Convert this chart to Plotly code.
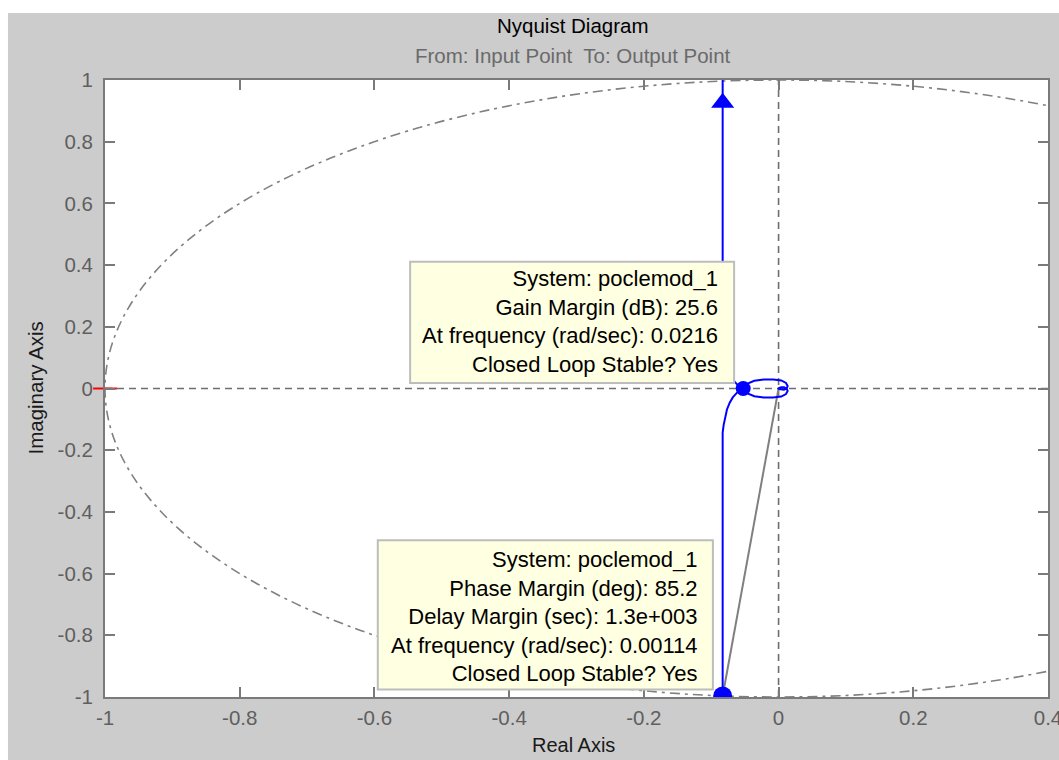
import plotly.graph_objects as go

# ---------------- data ----------------
# positive-frequency branch of the Nyquist curve (real, imag), from -j*inf towards the origin
nyq_re = [-0.083, -0.083, -0.083, -0.0815, -0.0795, -0.0766, -0.0725, -0.068, -0.061, -0.0525,
          -0.046, -0.036, -0.022, -0.008, 0.004, 0.011, 0.0135, 0.012, 0.008, 0.004, 0.001, 0.0]
nyq_im = [-1.10, -0.60, -0.143, -0.118, -0.092, -0.068, -0.046, -0.029, -0.012, 0.0,
          0.016, 0.025, 0.029, 0.029, 0.026, 0.018, 0.008, 0.0, -0.004, -0.004, -0.002, 0.0]

gm_point = (-0.0525, 0.0)       # gain margin crossing (25.6 dB)
pm_point = (-0.083, -0.9966)    # phase margin crossing of the unit circle
arrow_point = (-0.083, 0.926)   # direction arrow on the branch
critical_point = (-1.0, 0.0)

x_ticks = [-1, -0.8, -0.6, -0.4, -0.2, 0, 0.2, 0.4]
x_tick_labels = ["-1", "-0.8", "-0.6", "-0.4", "-0.2", "0", "0.2", "0.4"]
y_ticks = [-1, -0.8, -0.6, -0.4, -0.2, 0, 0.2, 0.4, 0.6, 0.8, 1]
y_tick_labels = ["-1", "-0.8", "-0.6", "-0.4", "-0.2", "0", "0.2", "0.4", "0.6", "0.8", "1"]

title_text = "Nyquist Diagram"
subtitle_text = "From: Input Point  To: Output Point"
x_title = "Real Axis"
y_title = "Imaginary Axis"

gm_lines = ["System: poclemod_1", "Gain Margin (dB): 25.6",
            "At frequency (rad/sec): 0.0216", "Closed Loop Stable? Yes"]
pm_lines = ["System: poclemod_1", "Phase Margin (deg): 85.2", "Delay Margin (sec): 1.3e+003",
            "At frequency (rad/sec): 0.00114", "Closed Loop Stable? Yes"]

# ---------------- styling ----------------
FONT = "Liberation Sans, Arial, sans-serif"
BLUE = "#0000ff"
GRAY = "#808080"
AX = "#7a7a7a"
TICKFONT = "#5f5f5f"

# full curve = positive branch + mirrored negative-frequency branch
full_re = nyq_re + nyq_re[::-1]
full_im = nyq_im + [-v for v in nyq_im[::-1]]

fig = go.Figure()

# phase-margin line from origin to crossing
fig.add_trace(go.Scatter(x=[0.0, pm_point[0]], y=[0.0, pm_point[1]], mode="lines",
                         line=dict(color=GRAY, width=2), hoverinfo="skip", showlegend=False))

fig.add_trace(go.Scatter(x=full_re, y=full_im, mode="lines",
                         line=dict(color=BLUE, width=2), showlegend=False))

fig.add_trace(go.Scatter(x=[arrow_point[0]], y=[arrow_point[1]], mode="markers",
                         marker=dict(symbol="triangle-up", size=20, color=BLUE), showlegend=False))

fig.add_trace(go.Scatter(x=[gm_point[0]], y=[gm_point[1]], mode="markers",
                         marker=dict(symbol="circle", size=15, color=BLUE), showlegend=False))

fig.add_trace(go.Scatter(x=[pm_point[0]], y=[pm_point[1]], mode="markers",
                         marker=dict(symbol="circle", size=19, color=BLUE), showlegend=False))

fig.add_trace(go.Scatter(x=[critical_point[0]], y=[critical_point[1]], mode="markers",
                         marker=dict(symbol="line-ew", size=17, line=dict(color="#ff0000", width=2)),
                         cliponaxis=False, showlegend=False))

shapes = [
    # background strips (white at top and left)
    dict(type="rect", xref="paper", yref="paper", x0=-0.2, x1=1.1, y0=1.1086, y1=1.2,
         fillcolor="white", line=dict(width=0), layer="below"),
    dict(type="rect", xref="paper", yref="paper", x0=-0.2, x1=-0.1029, y0=-0.2, y1=1.2,
         fillcolor="white", line=dict(width=0), layer="below"),
    # unit circle
    dict(type="circle", xref="x", yref="y", x0=-1, x1=1, y0=-1, y1=1,
         line=dict(color=GRAY, width=1.6, dash="10px,5px,3px,5px"), layer="below"),
    # zero lines
    dict(type="line", xref="x", yref="y", x0=0, x1=0, y0=-1, y1=1,
         line=dict(color="#6e6e6e", width=1.6, dash="7px,5px"), layer="below"),
    dict(type="line", xref="x", yref="y", x0=-1, x1=0.4, y0=0, y1=0,
         line=dict(color="#6e6e6e", width=1.6, dash="7px,5px"), layer="below"),
    # data-tip boxes
    dict(type="rect", xref="x", yref="y", x0=-0.547, x1=-0.066, y0=0.018, y1=0.411,
         fillcolor="#ffffe1", line=dict(color="#bdbdbd", width=2), layer="above"),
    dict(type="rect", xref="x", yref="y", x0=-0.595, x1=-0.0975, y0=-0.976, y1=-0.492,
         fillcolor="#ffffe1", line=dict(color="#bdbdbd", width=2), layer="above"),
]

annotations = [
    dict(text=title_text, xref="paper", yref="paper", x=0.4963, y=1.089, showarrow=False,
         xanchor="center", yanchor="middle", font=dict(family=FONT, size=20.5, color="#000000")),
    dict(text=subtitle_text, xref="paper", yref="paper", x=0.4963, y=1.0405, showarrow=False,
         xanchor="center", yanchor="middle", font=dict(family=FONT, size=20.5, color="#6a6a6a")),
    dict(text=x_title, xref="paper", yref="paper", x=0.4963, y=-0.0785, showarrow=False,
         xanchor="center", yanchor="middle", font=dict(family=FONT, size=20, color="#1a1a1a")),
    dict(text=y_title, xref="paper", yref="paper", x=-0.0742, y=0.5, showarrow=False,
         textangle=-90, xanchor="center", yanchor="middle",
         font=dict(family=FONT, size=20.5, color="#1a1a1a")),
    dict(text="<br>".join(gm_lines), xref="x", yref="y", x=-0.087, y=0.2175, showarrow=False,
         xanchor="right", yanchor="middle", align="right",
         font=dict(family=FONT, size=22, color="#000000")),
    dict(text="<br>".join(pm_lines), xref="x", yref="y", x=-0.1168, y=-0.739, showarrow=False,
         xanchor="right", yanchor="middle", align="right",
         font=dict(family=FONT, size=22, color="#000000")),
]

axis_common = dict(showline=True, linecolor=AX, linewidth=2, mirror="ticks",
                   ticks="inside", ticklen=10, tickwidth=1.5, tickcolor=AX,
                   showgrid=False, zeroline=False, ticklabeloverflow="allow",
                   automargin=False,
                   tickfont=dict(family=FONT, size=20.5, color=TICKFONT))

fig.update_layout(
    width=1059, height=760,
    margin=dict(l=105, r=11, t=80, b=63),
    paper_bgcolor="#cccccc", plot_bgcolor="white",
    xaxis=dict(range=[-1, 0.40001], tickvals=x_ticks, ticktext=x_tick_labels,
               ticklabelstandoff=1, **axis_common),
    yaxis=dict(range=[-1, 1], tickvals=y_ticks, ticktext=y_tick_labels,
               ticklabelstandoff=6, **axis_common),
    shapes=shapes, annotations=annotations, showlegend=False,
)

fig.write_html("out.html")
